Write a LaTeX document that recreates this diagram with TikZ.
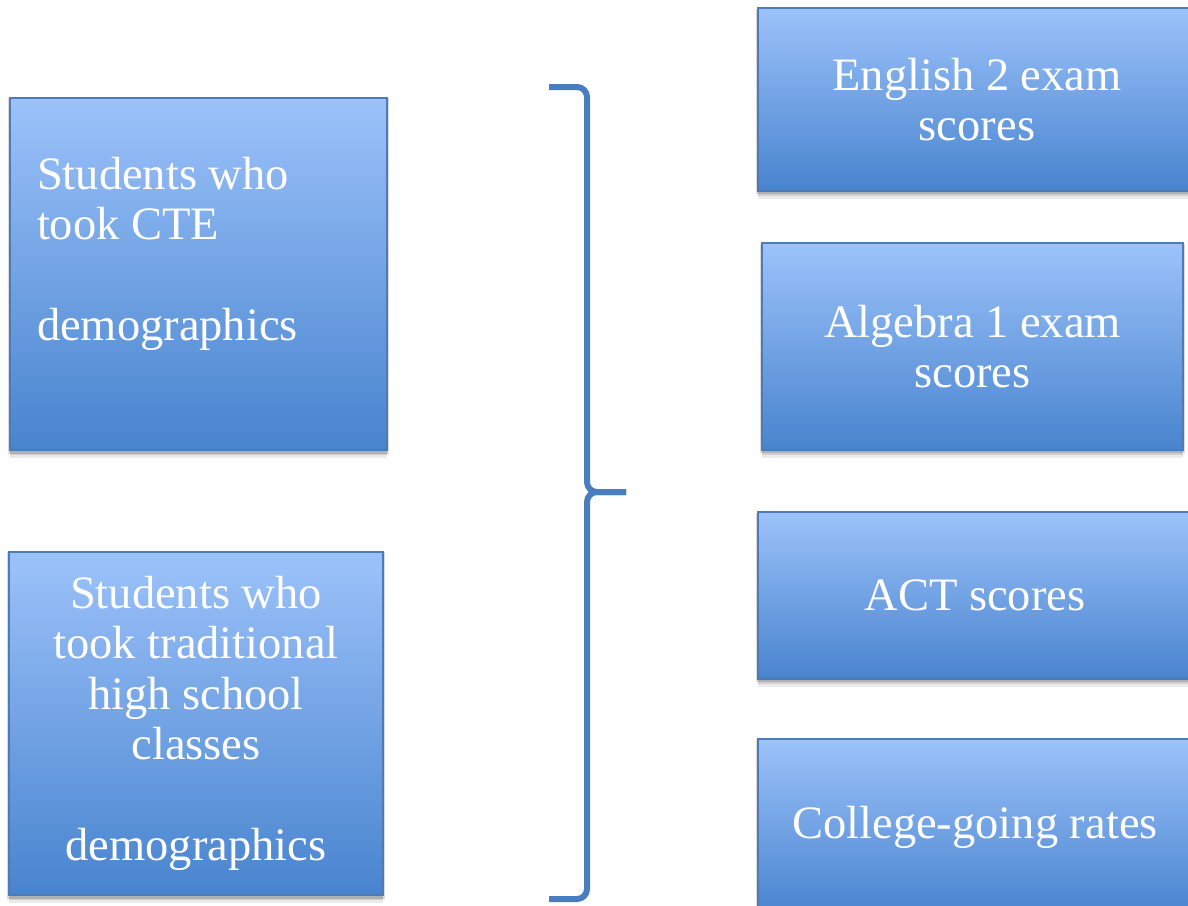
\documentclass[tikz,border=0pt]{standalone}
\usepackage{fontspec}
\setmainfont{Liberation Serif}
\usepackage{tikz}
\usetikzlibrary{shadows,positioning}
\definecolor{boxtop}{RGB}{156,194,250}
\definecolor{boxmid}{RGB}{122,168,232}
\definecolor{boxbot}{RGB}{72,132,206}
\definecolor{boxedge}{RGB}{78,122,184}
\definecolor{bracecol}{RGB}{74,125,190}

\begin{document}
\begin{tikzpicture}[x=1pt,y=-1pt,
  box/.style={draw=boxedge,line width=1.2pt,top color=boxtop,middle color=boxmid,bottom color=boxbot,
    text=white,font=\fontsize{46.5}{50.5}\selectfont,inner sep=0pt,
    general shadow={fill=black,opacity=.14,shadow yshift=-2pt,shadow scale=1.01},
    general shadow={fill=black,opacity=.12,shadow yshift=-5pt},
    general shadow={fill=black,opacity=.08,shadow yshift=-8pt}},
  bracket/.style={draw=bracecol,line width=6pt,rounded corners=10pt,line cap=butt}]
  \clip (0,0) rectangle (1188,905);
  \fill[white] (0,0) rectangle (1188,905);

  % the two student groups
  \node[box,minimum height=352pt,text width=323pt,inner xsep=27pt,align=flush left]
    (cte) at (198.5,274) {Students who\\took CTE\\[50.5pt]demographics\\\mbox{}};
  \node[box,minimum width=374pt,minimum height=343pt,align=center]
    (trad) at (196,723.5) {Students who\\took traditional\\high school\\classes\\[50.5pt]demographics};

  % brace joining them to the outcomes
  \draw[bracket] (549,87) -- (587,87) -- (587,492) -- (626,492);
  \draw[bracket] (626,492) -- (587,492) -- (587,899) -- (549,899);

  % outcomes
  \node[box,minimum width=438pt,minimum height=183pt,align=center]
    (eng) at (977,99.5) {English 2 exam\\scores};
  \node[box,minimum width=421pt,minimum height=207pt,align=center]
    (alg) at (972.5,346.5) {Algebra 1 exam\\scores};
  \node[box,minimum width=434pt,minimum height=167pt,align=center]
    (act) at (975,595.5) {ACT scores};
  \node[box,minimum width=434pt,minimum height=176pt,align=center]
    (col) at (975,827) {College-going rates};
\end{tikzpicture}
\end{document}
